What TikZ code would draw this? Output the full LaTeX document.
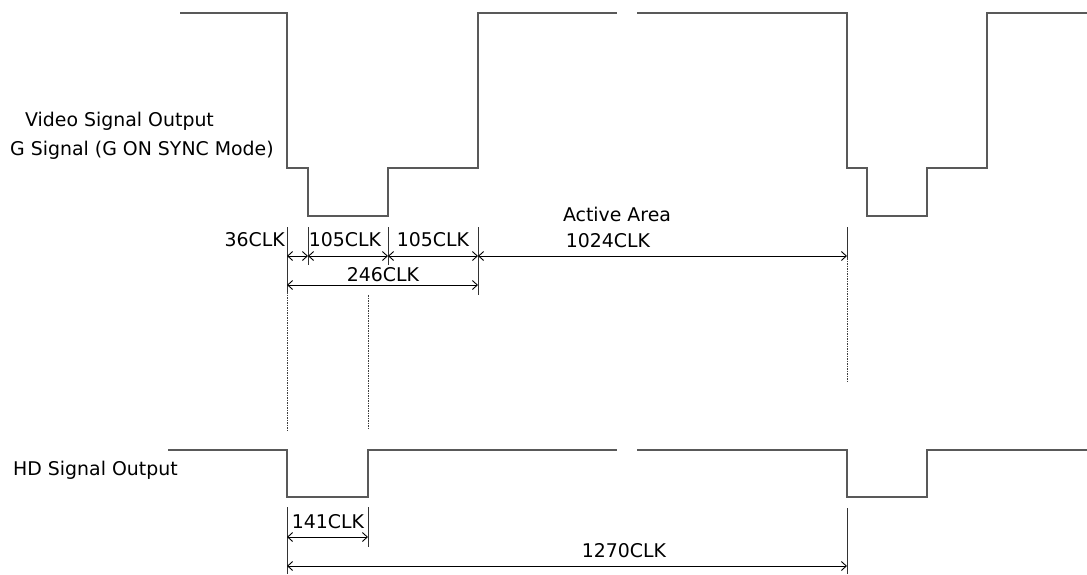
\documentclass[tikz,border=0pt]{standalone}
\usepackage{fontspec}
\setmainfont{DejaVu Sans}
\usepackage{tikz}
\usetikzlibrary{arrows.meta}

\begin{document}
\begin{tikzpicture}[x=1pt, y=-1pt,
    signal/.style={line width=1.3pt, black!65},
    tick/.style={line width=0.9pt, black!80},
    guide/.style={line width=1pt, black!75, dash pattern=on 1.5pt off 1pt},
    dim/.style={line width=0.9pt, black, {Straight Barb[length=5pt,width=9pt]}-{Straight Barb[length=5pt,width=9pt]}},
    lbl/.style={font=\fontsize{18.9}{20}\selectfont, inner sep=0pt, anchor=base}]
        \useasboundingbox (0,0) rectangle (1087,574);

        % Video signal output, G on sync
        \draw[signal] (180,13) -- (287,13) -- (287,168) -- (308,168) -- (308,216) -- (388,216)
            -- (388,168) -- (478,168) -- (478,13) -- (617,13);
        \draw[signal] (637,13) -- (847,13) -- (847,168) -- (867,168) -- (867,216) -- (927,216)
            -- (927,168) -- (987,168) -- (987,13) -- (1087,13);
        \node[lbl, anchor=base west] (vidname) at (25,126.7) {Video Signal Output};
        \node[lbl, anchor=base west] (gname) at (10,155) {G Signal (G ON SYNC Mode)};

        % HD signal output
        \draw[signal] (168,450) -- (287,450) -- (287,497) -- (368,497) -- (368,450) -- (617,450);
        \draw[signal] (637,450) -- (847,450) -- (847,497) -- (927,497) -- (927,450) -- (1087,450);
        \node[lbl, anchor=base west] (hdname) at (13,475) {HD Signal Output};

        % Extension lines
        \coordinate (s0) at (287,227);
        \coordinate (s1) at (308,227);
        \coordinate (s2) at (388,227);
        \coordinate (s3) at (478,227);
        \coordinate (s4) at (847,227);
        \draw[tick] (s0) -- (287,292);
        \draw[tick] (s1) -- (308,265);
        \draw[tick] (s2) -- (388,265);
        \draw[tick] (s3) -- (478,295);
        \draw[tick] (s4) -- (847,258);
        \draw[guide] (287,292) -- (287,430);
        \draw[guide] (368,295) -- (368,430);
        \draw[guide] (847,258) -- (847,381);
        \draw[tick] (287,507) -- (287,574);
        \draw[tick] (368,507) -- (368,547);
        \draw[tick] (847,508) -- (847,574);

        % Dimensions of the sync part
        \draw[dim] (287,256) -- (308,256);
        \draw[dim] (308,256) -- (388,256);
        \draw[dim] (388,256) -- (478,256);
        \draw[dim] (478,256) -- (847,256);
        \draw[dim] (287,285) -- (478,285);
        \draw[dim] (287,537) -- (368,537);
        \draw[dim] (287,566) -- (847,566);

        % Labels of the dimensions
        \node[lbl, anchor=base east] (front) at (285,246.7) {36CLK};
        \node[lbl] (sync) at (345,246.7) {105CLK};
        \node[lbl] (back) at (433,246.7) {105CLK};
        \node[lbl] (active) at (617,221.7) {Active Area};
        \node[lbl] (activeclk) at (608,247) {1024CLK};
        \node[lbl] (blank) at (383,281) {246CLK};
        \node[lbl] (hdwidth) at (328,528) {141CLK};
        \node[lbl] (period) at (624,557.7) {1270CLK};

    \end{tikzpicture}
\end{document}
